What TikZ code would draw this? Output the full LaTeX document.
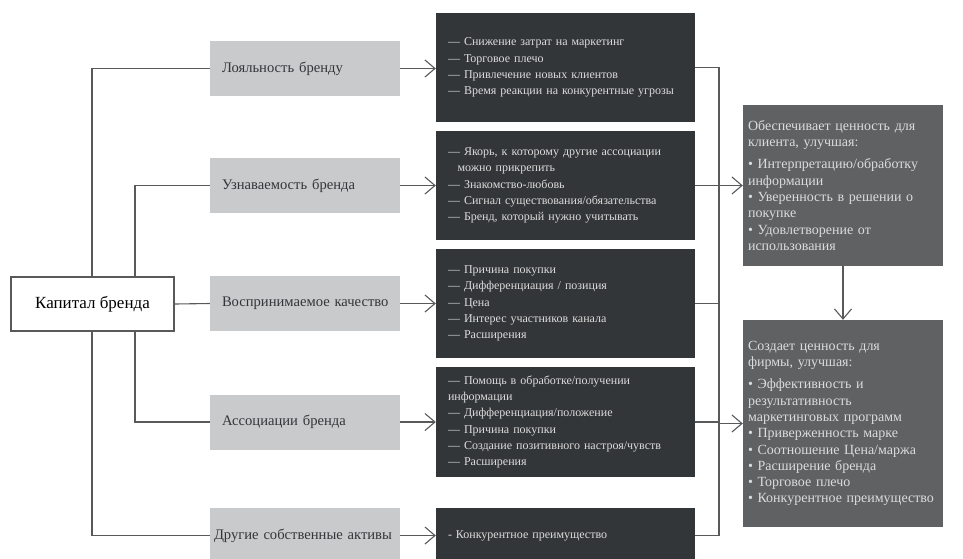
\documentclass[tikz,border=0pt]{standalone}
\usepackage{fontspec}
\setmainfont{Liberation Serif}
\usepackage{tikz}
\usetikzlibrary{arrows.meta}

\definecolor{lightbox}{HTML}{C8CACB}
\definecolor{darkbox}{HTML}{333638}
\definecolor{midbox}{HTML}{5F6163}
\definecolor{linegray}{HTML}{58595B}
\definecolor{paletext}{HTML}{DCDCDC}

\begin{document}
\begin{tikzpicture}[x=1pt,y=-1pt,
  conn/.style={draw=linegray,line width=1.1pt},
  arr/.style={conn,-{Straight Barb[length=10pt,width=17pt]}},
  capbox/.style={draw=linegray,line width=1.1pt,fill=white,minimum width=163pt,minimum height=54pt,font=\fontsize{17}{20}\selectfont},
  gbox/.style={fill=lightbox,minimum height=55pt,text width=174pt,inner xsep=8pt,align=left,text=darkbox,font=\fontsize{14.6}{17}\selectfont},
  dbox/.style={fill=darkbox,text width=235pt,inner xsep=12pt,align=left,text=paletext,font=\fontsize{12}{16.3}\selectfont},
  vbox/.style={fill=midbox,text width=190pt,inner xsep=5pt,align=left,text=paletext,font=\fontsize{14}{16.3}\selectfont}]

  \clip (0,0) rectangle (963,558);

  %root
  \node[capbox] (cap) at (92.5,304) {Капитал бренда};

  %components
  \def\gx{305};
  \foreach \i/\y/\txt in {1/68.5/\hspace*{4pt}Лояльность бренду,2/185.5/\hspace*{4pt}Узнаваемость бренда,3/303.5/\hspace*{4pt}Воспринимаемое качество,4/422/\hspace*{4pt}Ассоциации бренда}{
      \node[gbox] (g\i) at (\gx,\y) {\txt};
  }
  \node[gbox,text width=182pt,inner xsep=4pt] (g5) at (\gx,535.5) {Другие собственные активы};

  %details
  \def\dx{565.5};
  \node[dbox,minimum height=109pt] (d1) at (\dx,67.5) {— Снижение затрат на маркетинг\\— Торговое плечо\\— Привлечение новых клиентов\\— Время реакции на конкурентные угрозы};
  \node[dbox,minimum height=109pt] (d2) at (\dx,185.5) {— Якорь, к которому другие ассоциации\\\hspace*{0.8em}можно прикрепить\\— Знакомство-любовь\\— Сигнал существования/обязательства\\— Бренд, который нужно учитывать};
  \node[dbox,minimum height=109pt] (d3) at (\dx,303.5) {— Причина покупки\\— Дифференциация / позиция\\— Цена\\— Интерес участников канала\\— Расширения};
  \node[dbox,minimum height=110pt] (d4) at (\dx,422) {— Помощь в обработке/получении\\информации\\— Дифференциация/положение\\— Причина покупки\\— Создание позитивного настроя/чувств\\— Расширения};
  \node[dbox,minimum height=55pt] (d5) at (\dx,535.5) {- Конкурентное преимущество};

  %value
  \node[vbox,minimum height=161pt] (cl) at (843,185.5) {Обеспечивает ценность для\\клиента, улучшая:\\[6pt]• Интерпретацию/обработку\\информации\\• Уверенность в решении о\\покупке\\• Удовлетворение от\\использования};
  \node[vbox,minimum height=207pt] (fm) at (843,423.5) {Создает ценность для\\фирмы, улучшая:\\[6pt]• Эффективность и\\результативность\\маркетинговых программ\\• Приверженность марке\\• Соотношение Цена/маржа\\• Расширение бренда\\• Торговое плечо\\• Конкурентное преимущество\\[8pt]};

  %connectors
  \coordinate (v1) at (92,0);
  \coordinate (v2) at (135,0);
  \coordinate (bus) at (719,0);

  \draw[conn] (cap.north -| v1) |- (g1.west);
  \draw[conn] (cap.north -| v2) |- (g2.west);
  \draw[conn] (cap.east) -- (g3.west);
  \draw[conn] (cap.south -| v2) |- (g4.west);
  \draw[conn] (cap.south -| v1) |- (g5.west);

  \foreach \i in {1,...,5}{
      \draw[arr] (g\i.east) -- (g\i.east -| d\i.west);
  }

  \draw[conn] (d1.east) -| (bus |- d5.east) -- (d5.east);
  \foreach \i in {2,3,4}{
      \draw[conn] (d\i.east) -- (bus |- d\i.east);
  }
  \draw[arr] (bus |- cl.west) -- (cl.west);
  \draw[arr] (bus |- fm.west) -- (fm.west);
  \draw[arr] (cl.south) -- (fm.north);

\end{tikzpicture}
\end{document}
